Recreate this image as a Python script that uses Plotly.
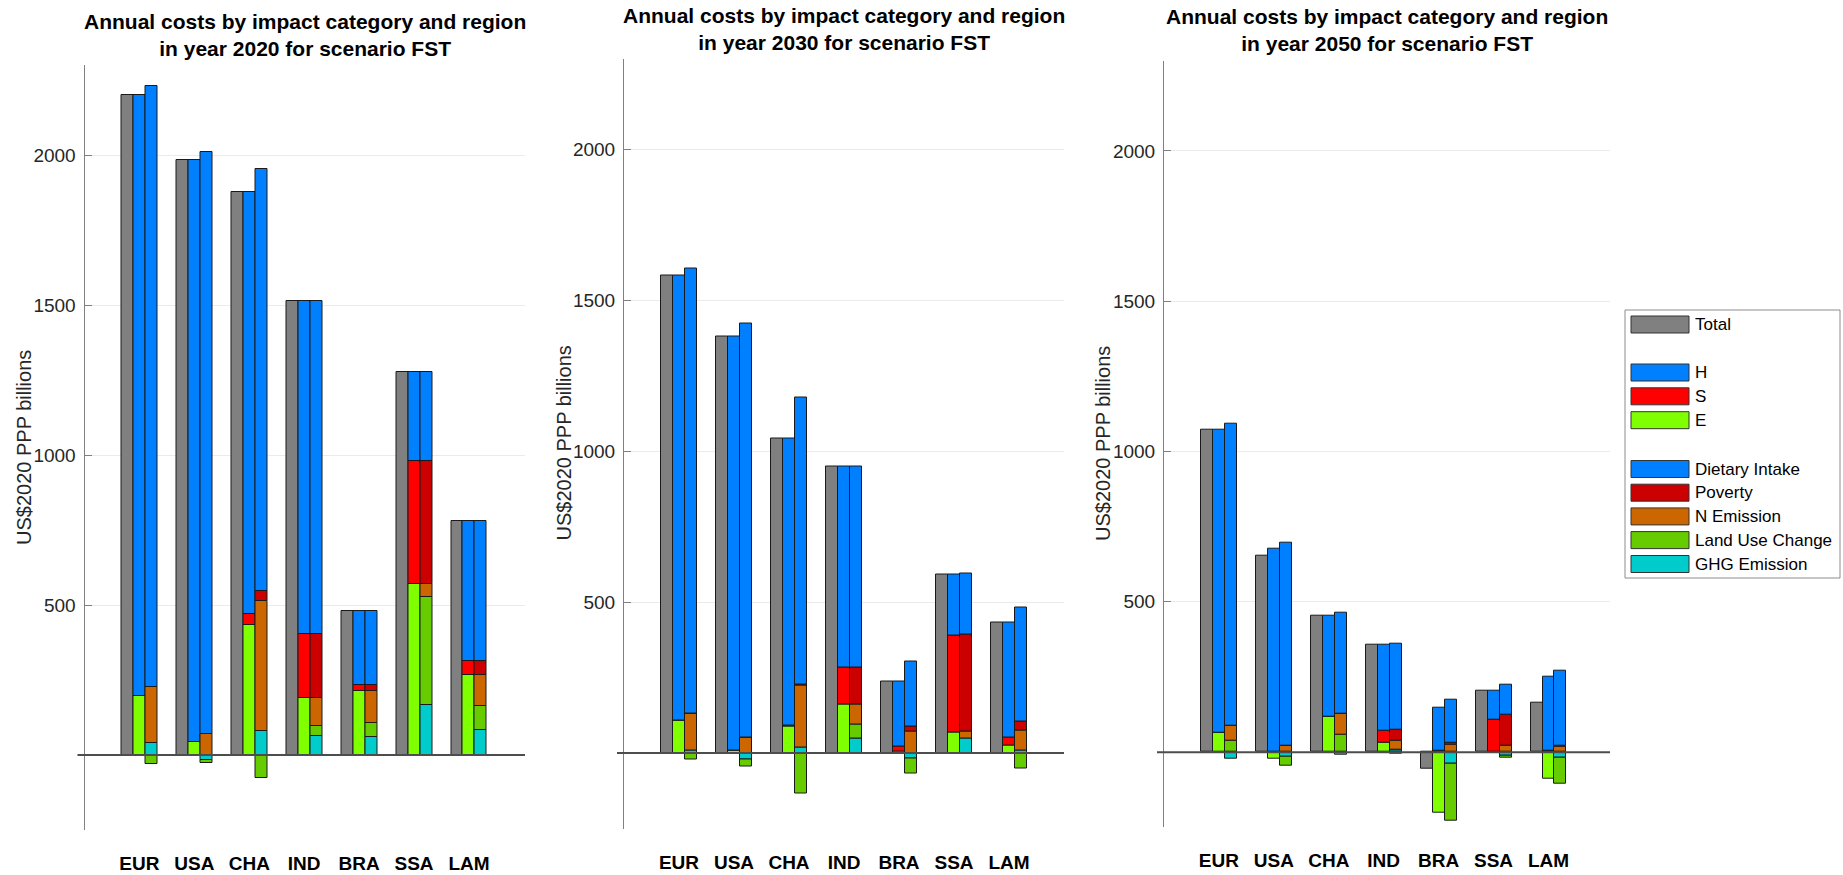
import plotly.graph_objects as go

# ---------------------------------------------------------------- data
regions = ["EUR", "USA", "CHA", "IND", "BRA", "SSA", "LAM"]
years = [2020, 2030, 2050]

# impact categories, US$2020 PPP billions, one value per region
dietary_2020 = [2005, 1938, 1406, 1112, 249, 296, 468]
poverty_2020 = [0, 0, 35, 213, 17, 411, 45]
n_emission_2020 = [185, 71, 432, 93, 108, 42, 106]
land_use_2020 = [-30, -12, -77, 32, 48, 360, 78]
ghg_2020 = [41, -15, 80, 65, 59, 168, 84]

dietary_2030 = [1472, 1373, 950, 666, 216, 202, 380]
poverty_2030 = [0, 0, 3, 120, 17, 319, 28]
n_emission_2030 = [122, 51, 204, 66, 71, 25, 67]
land_use_2030 = [-22, -24, -134, 48, -48, -3, -51]
ghg_2030 = [9, -20, 19, 48, -19, 47, 8]

dietary_2050 = [1006, 676, 336, 285, 141, 99, 247]
poverty_2050 = [0, 0, 0, 39, 6, 104, 4]
n_emission_2050 = [50, 22, 68, 30, 26, 20, 19]
land_use_2050 = [37, -30, 59, -4, -190, -6, -86]
ghg_2050 = [-22, -14, -10, 7, -37, -11, -20]

categories = {
    2020: [dietary_2020, poverty_2020, n_emission_2020, land_use_2020, ghg_2020],
    2030: [dietary_2030, poverty_2030, n_emission_2030, land_use_2030, ghg_2030],
    2050: [dietary_2050, poverty_2050, n_emission_2050, land_use_2050, ghg_2050],
}

# ---------------------------------------------------------------- style
W, H = 1843, 875
FONT = "Liberation Sans, Arial, sans-serif"
EDGE = dict(color="#1a1a1a", width=1)

C_TOTAL = "#808080"
C_H, C_S, C_E = "#0080FF", "#FF0000", "#80FF00"
C_DIET, C_POV, C_N, C_LUC, C_GHG = "#0080FF", "#CC0000", "#CC6600", "#66CC00", "#00CCCC"

# axes boxes in pixels: (left, right, top, bottom, x max)
panels = [
    (84.5, 525.0, 65.0, 830.0, 8.02),
    (624.0, 1064.0, 58.5, 828.5, 8.0),
    (1164.0, 1610.0, 60.7, 827.3, 8.12),
]
YMIN, YMAX = -250, 2300
BW = 0.218  # single bar width in category units


def px(x):
    return x / W


def py(y):
    return 1 - y / H


fig = go.Figure()

for p, year in enumerate(years):
    xa = "x" if p == 0 else f"x{p + 1}"
    ya = "y" if p == 0 else f"y{p + 1}"
    diet, pov, nem, luc, ghg = categories[year]

    h_vals = list(diet)
    s_vals = list(pov)
    e_vals = [a + b + c for a, b, c in zip(nem, luc, ghg)]
    total = [a + b + c for a, b, c in zip(h_vals, s_vals, e_vals)]

    pos = list(range(1, len(regions) + 1))
    x_tot = [v - BW for v in pos]
    x_hse = pos
    x_cat = [v + BW for v in pos]

    def add(xs, ys, color, name):
        fig.add_trace(go.Bar(
            x=xs, y=ys, width=BW, name=name, marker=dict(color=color, line=EDGE),
            xaxis=xa, yaxis=ya, showlegend=False,
        ))

    add(x_tot, total, C_TOTAL, "Total")
    add(x_hse, e_vals, C_E, "E")
    add(x_hse, s_vals, C_S, "S")
    add(x_hse, h_vals, C_H, "H")
    add(x_cat, ghg, C_GHG, "GHG Emission")
    add(x_cat, luc, C_LUC, "Land Use Change")
    add(x_cat, nem, C_N, "N Emission")
    add(x_cat, pov, C_POV, "Poverty")
    add(x_cat, diet, C_DIET, "Dietary Intake")

    left, right, top, bottom, xmax = panels[p]
    xkey = "xaxis" if p == 0 else f"xaxis{p + 1}"
    ykey = "yaxis" if p == 0 else f"yaxis{p + 1}"
    fig.update_layout({
        xkey: dict(
            domain=[px(left), px(right)], range=[0, xmax], anchor=ya,
            tickvals=pos, ticktext=[f"<b>{r}</b>" for r in regions],
            tickfont=dict(family=FONT, size=19, color="#000000"),
            showline=False, showgrid=False, zeroline=False, ticks="",
            ticklabelstandoff=20, fixedrange=True,
        ),
        ykey: dict(
            domain=[py(bottom), py(top)], range=[YMIN, YMAX], anchor=xa,
            tickvals=[500, 1000, 1500, 2000],
            tickfont=dict(family=FONT, size=19, color="#262626"),
            ticks="inside", ticklen=7, tickcolor="#808080", tickwidth=1,
            showline=True, linecolor="#808080", linewidth=1,
            showgrid=True, gridcolor="#ebebeb", gridwidth=1,
            zeroline=False, ticklabelstandoff=4, fixedrange=True,
        ),
    })

    # zero baseline, running slightly left of the y axis
    zero_y = bottom - (0 - YMIN) * (bottom - top) / (YMAX - YMIN)
    fig.add_shape(type="line", xref="paper", yref="paper",
                  x0=px(left - 7), x1=px(right), y0=py(zero_y), y1=py(zero_y),
                  line=dict(color="#4d4d4d", width=2), layer="above")

    # panel title
    title_centers = [35.0, 28.5, 29.7]
    fig.add_annotation(
        xref="paper", yref="paper", x=px((left + right) / 2), y=py(title_centers[p]),
        xanchor="center", yanchor="middle", showarrow=False,
        text=f"<b>Annual costs by impact category and region<br>in year {year} for scenario FST</b>",
        font=dict(family=FONT, size=21, color="#000000"),
    )

    # y axis title
    fig.add_annotation(
        xref="paper", yref="paper", x=px(left - 61), y=py((top + bottom) / 2),
        xanchor="center", yanchor="middle", showarrow=False, textangle=-90,
        text="US$2020 PPP billions", font=dict(family=FONT, size=20, color="#262626"),
    )

# ---------------------------------------------------------------- legend
legend_box = (1625, 310, 1840, 578)
fig.add_shape(type="rect", xref="paper", yref="paper",
              x0=px(legend_box[0]), x1=px(legend_box[2]),
              y0=py(legend_box[3]), y1=py(legend_box[1]),
              line=dict(color="#8c8c8c", width=1), fillcolor="#ffffff", layer="above")

legend_rows = [
    ("Total", C_TOTAL, 324.5),
    ("H", C_H, 372.5),
    ("S", C_S, 396.3),
    ("E", C_E, 420.2),
    ("Dietary Intake", C_DIET, 469.0),
    ("Poverty", C_POV, 492.7),
    ("N Emission", C_N, 516.4),
    ("Land Use Change", C_LUC, 540.1),
    ("GHG Emission", C_GHG, 564.0),
]
for label, color, yc in legend_rows:
    fig.add_shape(type="rect", xref="paper", yref="paper",
                  x0=px(1631), x1=px(1689), y0=py(yc + 8.5), y1=py(yc - 8.5),
                  line=dict(color="#333333", width=1), fillcolor=color, layer="above")
    fig.add_annotation(xref="paper", yref="paper", x=px(1693), y=py(yc),
                       xanchor="left", yanchor="middle", showarrow=False,
                       text=label, font=dict(family=FONT, size=17, color="#000000"))

fig.update_layout(
    width=W, height=H, barmode="relative", bargap=0,
    margin=dict(l=0, r=0, t=0, b=0),
    paper_bgcolor="#ffffff", plot_bgcolor="#ffffff",
    showlegend=False,
    font=dict(family=FONT),
)

fig.write_html("out.html", config={"displayModeBar": False})
